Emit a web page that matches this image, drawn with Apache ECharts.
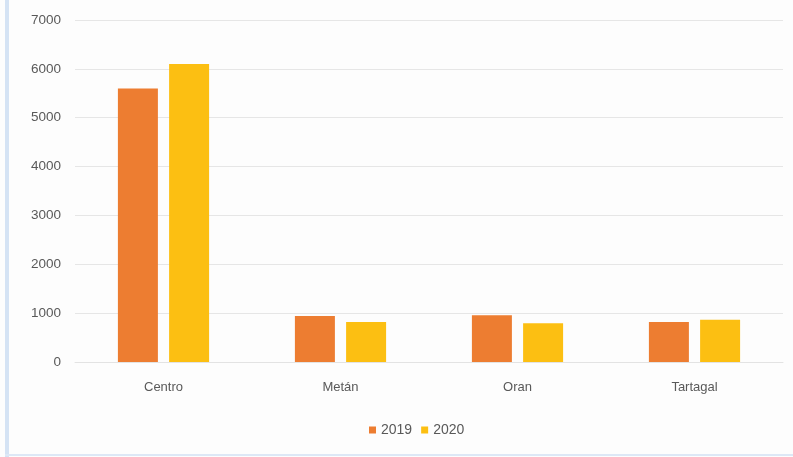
<!DOCTYPE html>
<html><head><meta charset="utf-8">
<script src="https://cdn.jsdelivr.net/npm/echarts@6/dist/echarts.min.js"></script>
<style>
html,body{margin:0;padding:0;background:#fdfdfd;}
#wrap{position:absolute;left:0;top:0;width:793px;height:457px;}
#bl{position:absolute;left:5px;top:0;width:4px;height:457px;background:#d5e3f4;}
#bb{position:absolute;left:5px;top:454px;width:788px;height:2px;background:#dde8f6;}
#c{position:absolute;left:0;top:0;width:793px;height:457px;}
</style></head>
<body><div id="wrap"><div id="bl"></div><div id="bb"></div><div id="c"></div></div>
<script>
const categories = ['Centro', 'Metán', 'Oran', 'Tartagal'];
const series2019 = [5600, 940, 955, 820];
const series2020 = [6100, 820, 795, 865];
const yTicks = [0, 1000, 2000, 3000, 4000, 5000, 6000, 7000];

const chart = echarts.init(document.getElementById('c'), null, {renderer: 'canvas'});
const font = 'Liberation Sans, Arial, sans-serif';
chart.setOption({
  backgroundColor: 'transparent',
  animation: false,
  grid: {left: 75, right: 10, top: 20, bottom: 95, containLabel: false},
  legend: {
    data: ['2019', '2020'], left: 364, top: 418,
    icon: 'rect', itemWidth: 7, itemHeight: 7, itemGap: 9,
    textStyle: {color: '#595959', fontFamily: font, fontSize: 14}
  },
  xAxis: {
    type: 'category', data: categories,
    axisLine: {show: true, lineStyle: {color: '#e3e3e3'}},
    axisTick: {show: false},
    axisLabel: {color: '#595959', fontFamily: font, fontSize: 13, margin: 19}
  },
  yAxis: {
    type: 'value', min: yTicks[0], max: yTicks[yTicks.length - 1], interval: 1000,
    axisLine: {show: false}, axisTick: {show: false},
    axisLabel: {color: '#595959', fontFamily: font, fontSize: 13.5, margin: 14,
                formatter: v => String(v)},
    splitLine: {lineStyle: {color: '#e6e6e6', width: 1}}
  },
  series: [
    {name: '2019', type: 'bar', data: series2019, barWidth: 40, barGap: '28%',
     itemStyle: {color: '#ED7D31'}},
    {name: '2020', type: 'bar', data: series2020, barWidth: 40,
     itemStyle: {color: '#FCBF12'}}
  ]
});
</script></body></html>
